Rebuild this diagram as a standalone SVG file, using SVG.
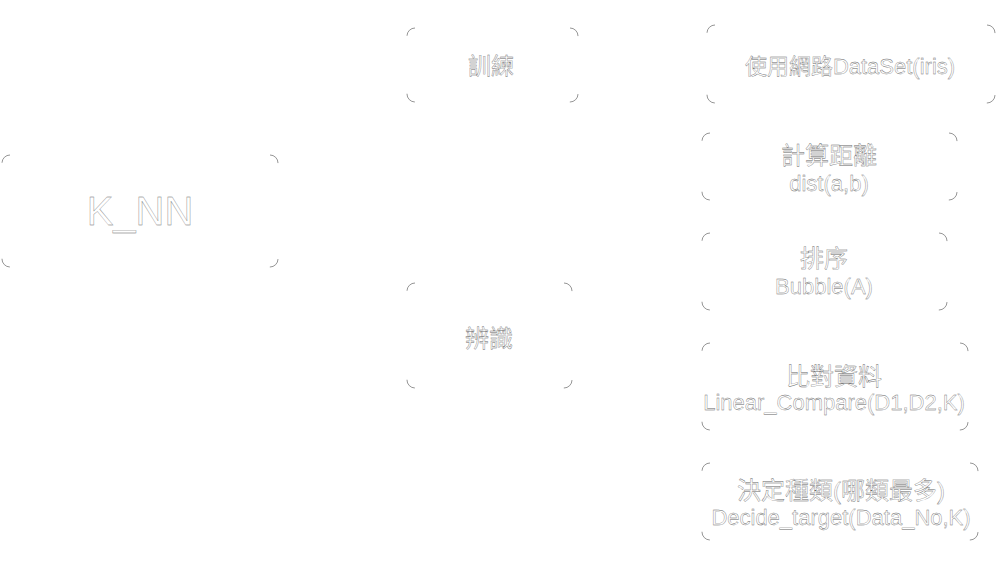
<svg xmlns="http://www.w3.org/2000/svg" width="998" height="569" viewBox="0 0 998 569">
<style>
.box{fill:#fff;stroke:#7a7a7a;stroke-width:0.8}
.t{font-family:"Liberation Sans","Noto Sans CJK TC",sans-serif;fill:#fff;stroke:#666;stroke-width:0.35;text-anchor:middle;dominant-baseline:central}
</style>
<rect width="998" height="569" fill="#fff"/>
<g id="connectors"></g>
<g id="knn">
<rect class="box" x="2" y="155" width="276" height="112" rx="8" stroke-dasharray="0 260 12.57 96 12.57 260 12.57 96 12.57"/>
<text class="t" x="140" y="211" font-size="40">K_NN</text>
</g>
<g id="train">
<rect class="box" x="407" y="28" width="171" height="74" rx="8" stroke-dasharray="0 155 12.57 58 12.57 155 12.57 58 12.57"/>
<text class="t" x="491" y="66" font-size="23">訓練</text>
</g>
<g id="recognize">
<rect class="box" x="407" y="283" width="165" height="105" rx="8" stroke-dasharray="0 149 12.57 89 12.57 149 12.57 89 12.57"/>
<text class="t" x="489" y="338" font-size="24">辨識</text>
</g>
<g id="dataset">
<rect class="box" x="707" y="25" width="288" height="78" rx="8" stroke-dasharray="0 272 12.57 62 12.57 272 12.57 62 12.57"/>
<text class="t" x="850" y="66" font-size="22">使用網路DataSet(iris)</text>
</g>
<g id="dist">
<rect class="box" x="702" y="133" width="255" height="67" rx="8" stroke-dasharray="0 239 12.57 51 12.57 239 12.57 51 12.57"/>
<text class="t" x="829" y="155" font-size="24">計算距離</text>
<text class="t" x="829" y="183" font-size="22">dist(a,b)</text>
</g>
<g id="sort">
<rect class="box" x="702" y="233" width="245" height="77" rx="8" stroke-dasharray="0 229 12.57 61 12.57 229 12.57 61 12.57"/>
<text class="t" x="824" y="258" font-size="24">排序</text>
<text class="t" x="824" y="286" font-size="22">Bubble(A)</text>
</g>
<g id="compare">
<rect class="box" x="702" y="343" width="266" height="87" rx="8" stroke-dasharray="0 250 12.57 71 12.57 250 12.57 71 12.57"/>
<text class="t" x="834" y="376" font-size="24">比對資料</text>
<text class="t" x="834" y="402" font-size="22">Linear_Compare(D1,D2,K)</text>
</g>
<g id="decide">
<rect class="box" x="702" y="463" width="276" height="77" rx="8" stroke-dasharray="0 260 12.57 61 12.57 260 12.57 61 12.57"/>
<text class="t" x="841" y="490" font-size="24">決定種類(哪類最多)</text>
<text class="t" x="841" y="517" font-size="22">Decide_target(Data_No,K)</text>
</g>
</svg>
